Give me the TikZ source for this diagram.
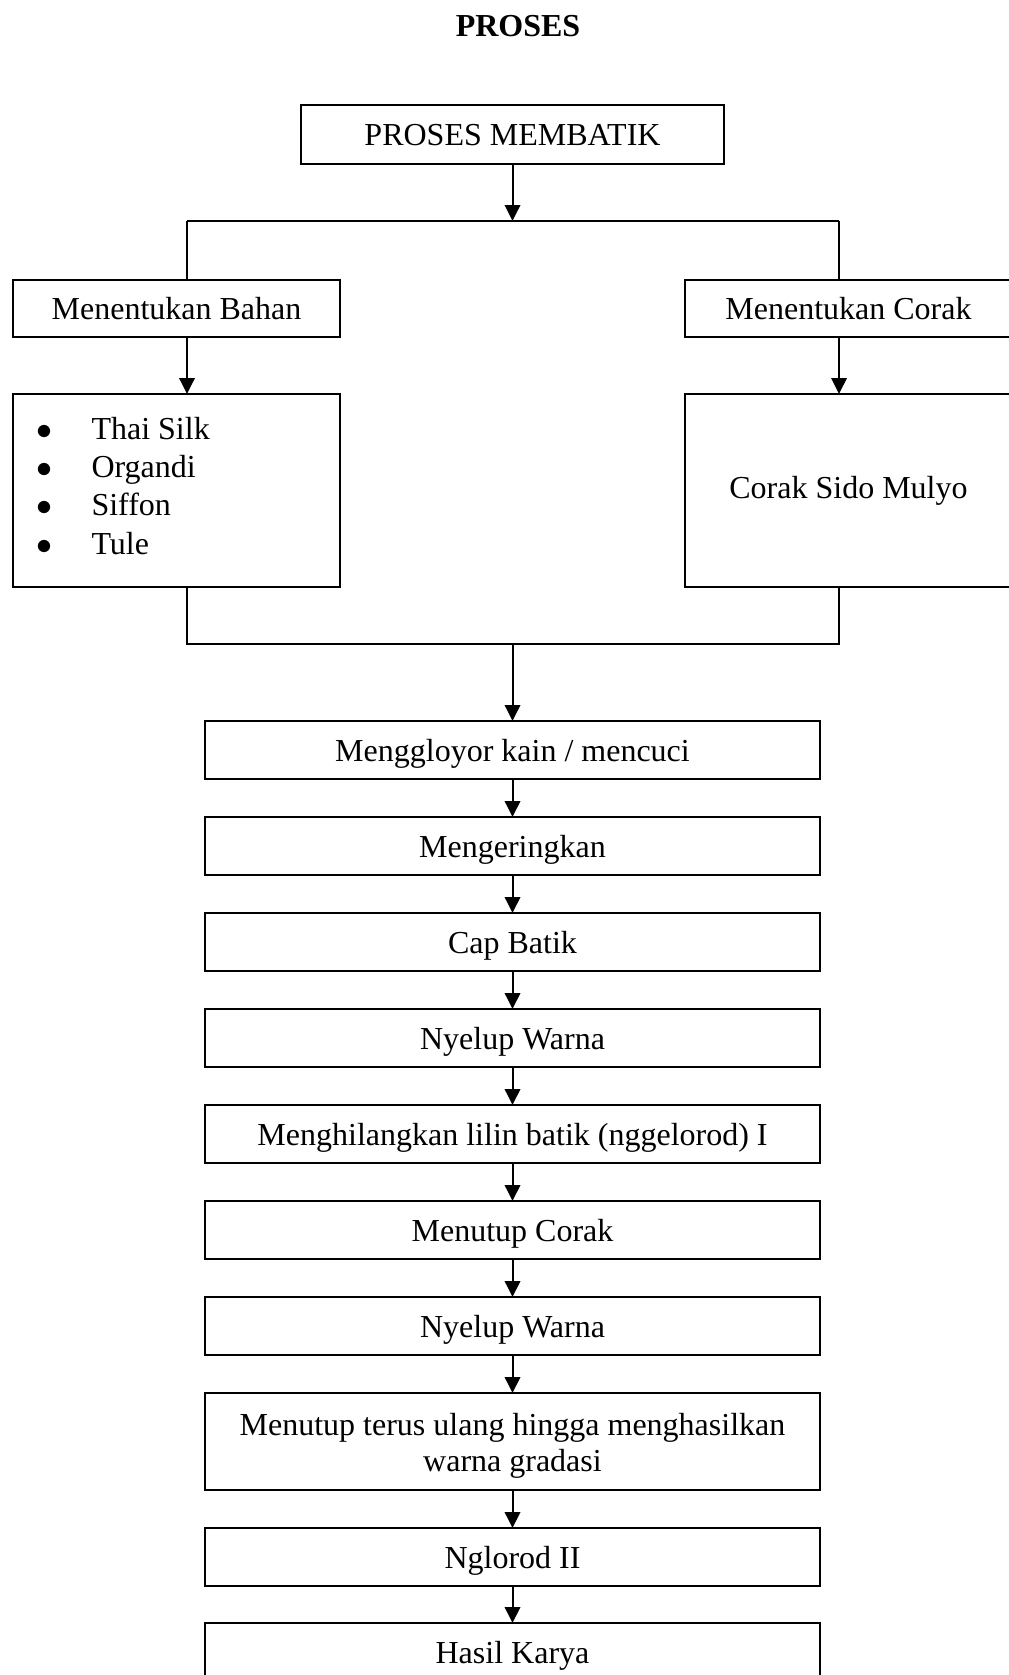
\documentclass[tikz,border=0pt]{standalone}
\usepackage{fontspec}
\setmainfont{Liberation Serif}
\usetikzlibrary{arrows.meta, positioning}

\begin{document}
\begin{tikzpicture}[x=0.375pt, y=-0.375pt,
  box/.style={draw, line width=1pt, inner sep=0pt, outer sep=0pt, align=center,
    text height=9.5pt, text depth=1pt, font=\fontsize{12}{13.8}\selectfont},
  stepbox/.style={box, minimum width=615*0.375pt, minimum height=58*0.375pt},
  sidebox/.style={box, minimum width=327*0.375pt, minimum height=57*0.375pt},
  listbox/.style={box, minimum width=327*0.375pt, minimum height=193*0.375pt},
  link/.style={line width=0.75pt},
  flow/.style={link, -{Triangle[length=6pt, width=5.8pt]}}]
  \useasboundingbox (0,0) rectangle (1009,1675);

  % Title
  \node[font=\fontsize{12}{13.8}\selectfont\bfseries, anchor=base] (title) at (518,36) {PROSES};

  % Start
  \node[box, minimum width=423*0.375pt, minimum height=59*0.375pt] (membatik) at (512.5,134.5) {PROSES MEMBATIK};
  \coordinate (busL) at (187,221);
  \coordinate (busR) at (839,221);
  \draw[flow] (membatik.south) -- (membatik.south |- busL);
  \draw[link] (busL) -- (busR);

  % Bahan and corak
  \node[sidebox] (bahan) at (176.5,308.5) {Menentukan Bahan};
  \node[sidebox] (corak) at (848.5,308.5) {Menentukan Corak};
  \draw[link] (busL) -- (busL |- bahan.north);
  \draw[link] (busR) -- (busR |- corak.north);

  \node[listbox] (bahanlist) at (176.5,490.5) {};
  \node[anchor=west, align=left, inner sep=0pt, font=\fontsize{12}{14.4}\selectfont] (bahanitems) at ([xshift=8.5pt, yshift=1.8pt]bahanlist.west) {
    \makebox[20.75pt][l]{$\bullet$}Thai Silk\\
    \makebox[20.75pt][l]{$\bullet$}Organdi\\
    \makebox[20.75pt][l]{$\bullet$}Siffon\\
    \makebox[20.75pt][l]{$\bullet$}Tule
  };
  \node[listbox, text height={}, text depth={}] (corakbox) at (848.5,490.5) {Corak Sido Mulyo};
  \draw[flow] (bahan.south -| busL) -- (bahanlist.north -| busL);
  \draw[flow] (corak.south -| busR) -- (corakbox.north -| busR);

  % Join
  \coordinate (joinL) at (187,644);
  \coordinate (joinR) at (839,644);
  \coordinate (joinM) at (512.5,644);
  \draw[link] (bahanlist.south -| joinL) -- (joinL) -- (joinR) -- (corakbox.south -| joinR);

  % Steps
  \node[stepbox] (gloyor) at (512.5,750) {Menggloyor kain / mencuci};
  \node[stepbox] (kering) at (512.5,846) {Mengeringkan};
  \node[stepbox] (cap) at (512.5,942) {Cap Batik};
  \node[stepbox] (celupA) at (512.5,1038) {Nyelup Warna};
  \node[stepbox] (lorodA) at (512.5,1134) {Menghilangkan lilin batik (nggelorod) I};
  \node[stepbox] (tutup) at (512.5,1230) {Menutup Corak};
  \node[stepbox] (celupB) at (512.5,1326) {Nyelup Warna};
  \node[stepbox, text height={}, text depth={}, minimum height=97*0.375pt] (ulang) at (512.5,1441.5)
    {\rule{0pt}{11.6pt}Menutup terus ulang hingga menghasilkan\\warna gradasi};
  \node[stepbox] (lorodB) at (512.5,1557) {Nglorod II};
  \node[stepbox] (hasil) at (512.5,1652) {Hasil Karya};

  \draw[flow] (joinM) -- (gloyor.north);
  \draw[flow] (gloyor) -- (kering);
  \draw[flow] (kering) -- (cap);
  \draw[flow] (cap) -- (celupA);
  \draw[flow] (celupA) -- (lorodA);
  \draw[flow] (lorodA) -- (tutup);
  \draw[flow] (tutup) -- (celupB);
  \draw[flow] (celupB) -- (ulang);
  \draw[flow] (ulang) -- (lorodB);
  \draw[flow] (lorodB) -- (hasil);
\end{tikzpicture}
\end{document}
